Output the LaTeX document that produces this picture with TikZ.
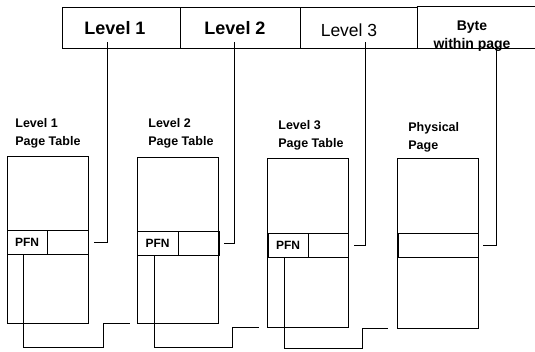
\documentclass[tikz,border=0pt]{standalone}
\usepackage{fontspec}
\setmainfont{Liberation Sans}
\begin{document}
\begin{tikzpicture}[x=1pt,y=-1pt,line width=0.8pt,
  field/.style={draw,rectangle,inner sep=0pt,minimum height=41pt},
  tablebox/.style={draw,rectangle,inner sep=0pt,minimum width=81pt},
  cell/.style={draw,rectangle,inner sep=0pt,minimum height=24pt,font=\bfseries\fontsize{12}{12}\selectfont},
  bigtxt/.style={inner sep=0pt,font=\bfseries\fontsize{18}{18}\selectfont},
  tlabel/.style={anchor=base west,inner sep=0pt,align=left,font=\bfseries\fontsize{12.5}{18}\selectfont},
  conn/.style={line width=0.8pt}]
\useasboundingbox (0,0) rectangle (535,351);
% top virtual address fields
\node[field,minimum width=118pt] (f1) at (121,27.5) {};
\node[field,minimum width=120pt] (f2) at (240,27.5) {};
\node[field,minimum width=117pt] (f3) at (358.5,27.5) {};
\node[rectangle,inner sep=0pt,minimum height=41pt,minimum width=118pt] (f4) at (476,27.5) {};
\draw (f4.north west) -- (f4.north east);
\draw (f4.south west) -- (f4.south east);
\node[bigtxt] (l1) at (115,28.5) {Level 1};
\node[bigtxt] (l2) at (235,28.5) {Level 2};
\node[inner sep=0pt,font=\fontsize{17.5}{17.5}\selectfont] (l3) at (349,30) {Level 3};
\node[inner sep=0pt,align=center,font=\bfseries\fontsize{14}{18}\selectfont] (l4) at (472,36) {Byte\\within page};
% tables
\node[tablebox,minimum height=167pt] (t1) at (47.5,239.5) {};
\node[cell,minimum width=40pt] (p1) at (27,242) {PFN};
\node[cell,minimum width=41pt] (e1) at (67.5,242) {};
\node[tablebox,minimum height=166pt] (t2) at (178,240) {};
\node[cell,minimum width=41pt] (p2) at (157.5,243) {PFN};
\node[cell,minimum width=41pt] (e2) at (198.5,243) {};
\node[tablebox,minimum height=169pt] (t3) at (308,242.5) {};
\node[cell,minimum width=40pt] (p3) at (288,245) {PFN};
\node[cell,minimum width=40pt] (e3) at (328,245) {};
\node[tablebox,minimum height=170pt] (ph) at (438,243) {};
\node[cell,minimum width=80pt] (pr) at (438,245) {};
% table labels (anchor at baseline of last line)
\node[tlabel] (n1) at (15,145) {Level 1\\Page Table};
\node[tlabel] (n2) at (148,145) {Level 2\\Page Table};
\node[tlabel] (n3) at (278,147) {Level 3\\Page Table};
\node[tlabel] (n4) at (408,149) {Physical\\Page};
% connector coordinates
\coordinate (c1) at (107,42);
\coordinate (c2) at (234,42);
\coordinate (c3) at (365,42);
\coordinate (c4) at (496,46);
\coordinate (k1) at (103,347);
\coordinate (k2) at (232,347);
\coordinate (k3) at (362,348);
% index connectors
\draw[conn] (c1) |- ([xshift=6pt]e1.east);
\draw[conn] (c2) |- ([xshift=5pt]e2.east);
\draw[conn] (c3) |- ([xshift=6pt]e3.east);
\draw[conn] (c4) |- ([xshift=5pt]pr.east);
% PFN connectors
\draw[conn] ([xshift=-4pt]p1.south) |- (k1) |- ([xshift=-7pt]t2.south west);
\draw[conn] ([xshift=-3.5pt]p2.south) |- (k2) |- ([xshift=-8pt]t3.south west);
\draw[conn] ([xshift=-4pt]p3.south) |- (k3) |- ([xshift=-9pt]ph.south west);
\end{tikzpicture}
\end{document}
